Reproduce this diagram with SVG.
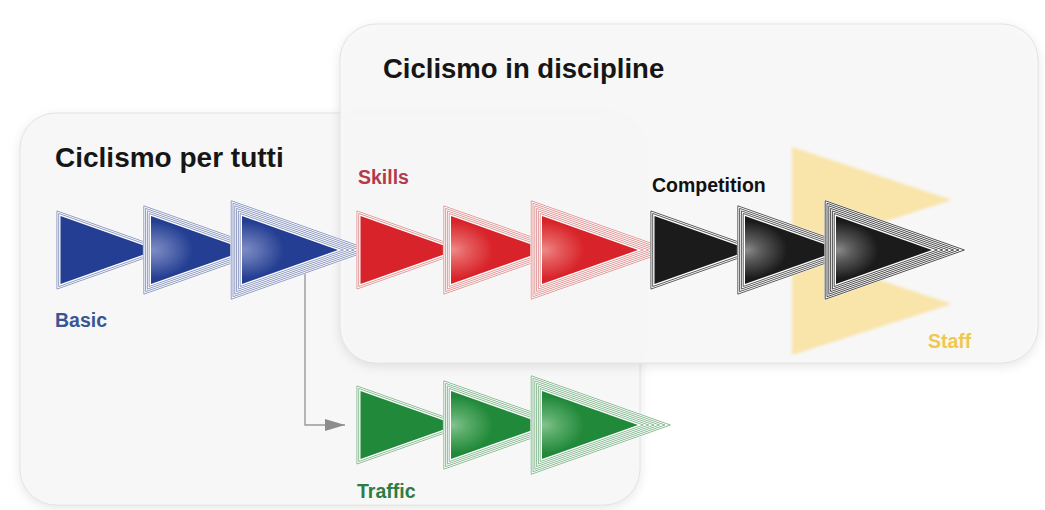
<svg xmlns="http://www.w3.org/2000/svg" xmlns:xlink="http://www.w3.org/1999/xlink" width="1045" height="510" viewBox="0 0 1045 510">
  <style>
    .title { font-family: "Liberation Sans", Arial, sans-serif; font-weight: 700; fill: #161616; }
    .label { font-family: "Liberation Sans", Arial, sans-serif; font-weight: 700; font-size: 19.5px; }
    .base { fill: #ffffff; stroke: none; }
    .ring { fill: none; stroke: currentColor; stroke-width: 0.9; }
    .box { stroke: #e4e4e4; stroke-width: 1; }
    .shadow { fill: #000000; opacity: 0.10; }
  </style>
  <defs>
    <filter id="blur" x="-10%" y="-10%" width="120%" height="130%">
      <feGaussianBlur stdDeviation="6"/>
    </filter>
    <filter id="soft" x="-10%" y="-10%" width="120%" height="120%">
      <feGaussianBlur stdDeviation="1.5"/>
    </filter>
    <marker id="arrow" markerUnits="userSpaceOnUse" markerWidth="20" markerHeight="12" viewBox="0 0 20 12" refX="20" refY="6" orient="auto">
      <path d="M0,0 L20,6 L0,12 z" fill="#8c8c8c"/>
    </marker>
    <polygon id="tri" points="0,-34 96,0 0,34"/>
    <g id="ringsA">
      <polygon class="base" points="-4.5,-40.37 109.5,0 -4.5,40.37"/>
      <polygon class="ring" points="-3.6,-39.09 106.8,0 -3.6,39.09"/>
      <polygon class="ring" points="-1.8,-36.55 101.4,0 -1.8,36.55"/>
    </g>
    <g id="ringsB">
      <polygon class="base" points="-8.1,-45.46 120.3,0 -8.1,45.46"/>
      <polygon class="ring" points="-7.2,-44.19 117.6,0 -7.2,44.19"/>
      <polygon class="ring" points="-5.4,-41.64 112.2,0 -5.4,41.64"/>
      <polygon class="ring" points="-3.6,-39.09 106.8,0 -3.6,39.09"/>
      <polygon class="ring" points="-1.8,-36.55 101.4,0 -1.8,36.55"/>
    </g>
    <g id="ringsC">
      <polygon class="base" points="-11.7,-50.56 131.1,0 -11.7,50.56"/>
      <polygon class="ring" points="-10.8,-49.28 128.4,0 -10.8,49.28"/>
      <polygon class="ring" points="-9,-46.74 123,0 -9,46.74"/>
      <polygon class="ring" points="-7.2,-44.19 117.6,0 -7.2,44.19"/>
      <polygon class="ring" points="-5.4,-41.64 112.2,0 -5.4,41.64"/>
      <polygon class="ring" points="-3.6,-39.09 106.8,0 -3.6,39.09"/>
      <polygon class="ring" points="-1.8,-36.55 101.4,0 -1.8,36.55"/>
    </g>
    <radialGradient id="glowBlue" cx="0.02" cy="0.5" r="0.42" fx="0.02" fy="0.5">
      <stop offset="0" stop-color="#7d8cc4"/>
      <stop offset="0.35" stop-color="#6173b4"/>
      <stop offset="1" stop-color="#233e92"/>
    </radialGradient>
    <radialGradient id="glowRed" cx="0.02" cy="0.5" r="0.42" fx="0.02" fy="0.5">
      <stop offset="0" stop-color="#ee8a8a"/>
      <stop offset="0.35" stop-color="#e66060"/>
      <stop offset="1" stop-color="#d8232a"/>
    </radialGradient>
    <radialGradient id="glowBlack" cx="0.02" cy="0.5" r="0.42" fx="0.02" fy="0.5">
      <stop offset="0" stop-color="#8a8a8a"/>
      <stop offset="0.35" stop-color="#5c5c5c"/>
      <stop offset="1" stop-color="#1b1b1b"/>
    </radialGradient>
    <radialGradient id="glowGreen" cx="0.02" cy="0.5" r="0.42" fx="0.02" fy="0.5">
      <stop offset="0" stop-color="#84c290"/>
      <stop offset="0.35" stop-color="#5aad6a"/>
      <stop offset="1" stop-color="#21893a"/>
    </radialGradient>
  </defs>

  <rect x="0" y="0" width="1045" height="510" fill="#ffffff"/>

  <g id="box-ciclismo-per-tutti">
    <rect class="shadow" x="20" y="116" width="620" height="392" rx="36" filter="url(#blur)"/>
    <rect class="box" x="20" y="113" width="620" height="392" rx="36" fill="#f7f7f7"/>
    <text class="title" x="55" y="167" font-size="28">Ciclismo per tutti</text>
  </g>

  <g id="box-ciclismo-in-discipline">
    <rect class="shadow" x="340" y="27" width="698" height="339" rx="36" filter="url(#blur)"/>
    <rect class="box" x="340" y="24" width="698" height="339" rx="36" fill="#f8f8f8" fill-opacity="0.9"/>
    <text class="title" x="383" y="78" font-size="27.5">Ciclismo in discipline</text>
  </g>

  <g id="connectors">
    <path d="M305,274 V425 H345" fill="none" stroke="#9a9a9a" stroke-width="1.4" marker-end="url(#arrow)"/>
  </g>

  <g id="node-basic">
    <use href="#ringsA" x="60.5" y="250" style="color:#8391bb"/>
    <use href="#tri" x="60.5" y="250" fill="#233e92"/>
    <use href="#ringsB" x="151" y="250" style="color:#8391bb"/>
    <use href="#tri" x="151" y="250" fill="url(#glowBlue)"/>
    <use href="#ringsC" x="242" y="250" style="color:#8391bb"/>
    <use href="#tri" x="242" y="250" fill="url(#glowBlue)"/>
    <text class="label" x="55" y="327" fill="#3a5594">Basic</text>
  </g>

  <g id="node-skills">
    <use href="#ringsA" x="360.5" y="250" style="color:#de8e8e"/>
    <use href="#tri" x="360.5" y="250" fill="#d8232a"/>
    <use href="#ringsB" x="451" y="250" style="color:#de8e8e"/>
    <use href="#tri" x="451" y="250" fill="url(#glowRed)"/>
    <use href="#ringsC" x="542" y="250" style="color:#de8e8e"/>
    <use href="#tri" x="542" y="250" fill="url(#glowRed)"/>
    <text class="label" x="358" y="184" fill="#b43a4b">Skills</text>
  </g>

  <g id="node-staff">
    <polygon points="792,147 952,200 792,251" fill="#f9e4aa" filter="url(#soft)"/>
    <polygon points="792,251 952,304 792,355" fill="#f9e4aa" filter="url(#soft)"/>
    <text class="label" x="928" y="348" fill="#efc84e">Staff</text>
  </g>

  <g id="node-competition">
    <use href="#ringsA" x="654.5" y="250" style="color:#4a4a4a"/>
    <use href="#tri" x="654.5" y="250" fill="#1b1b1b"/>
    <use href="#ringsB" x="745" y="250" style="color:#4a4a4a"/>
    <use href="#tri" x="745" y="250" fill="url(#glowBlack)"/>
    <use href="#ringsC" x="836" y="250" style="color:#3a3a3a"/>
    <use href="#tri" x="836" y="250" fill="url(#glowBlack)"/>
    <text class="label" x="652" y="192" fill="#111111">Competition</text>
  </g>

  <g id="node-traffic">
    <use href="#ringsA" x="360.5" y="425" style="color:#7fb48a"/>
    <use href="#tri" x="360.5" y="425" fill="#21893a"/>
    <use href="#ringsB" x="451" y="425" style="color:#7fb48a"/>
    <use href="#tri" x="451" y="425" fill="url(#glowGreen)"/>
    <use href="#ringsC" x="542" y="425" style="color:#7fb48a"/>
    <use href="#tri" x="542" y="425" fill="url(#glowGreen)"/>
    <text class="label" x="357" y="498" fill="#2e7b44">Traffic</text>
  </g>
</svg>
